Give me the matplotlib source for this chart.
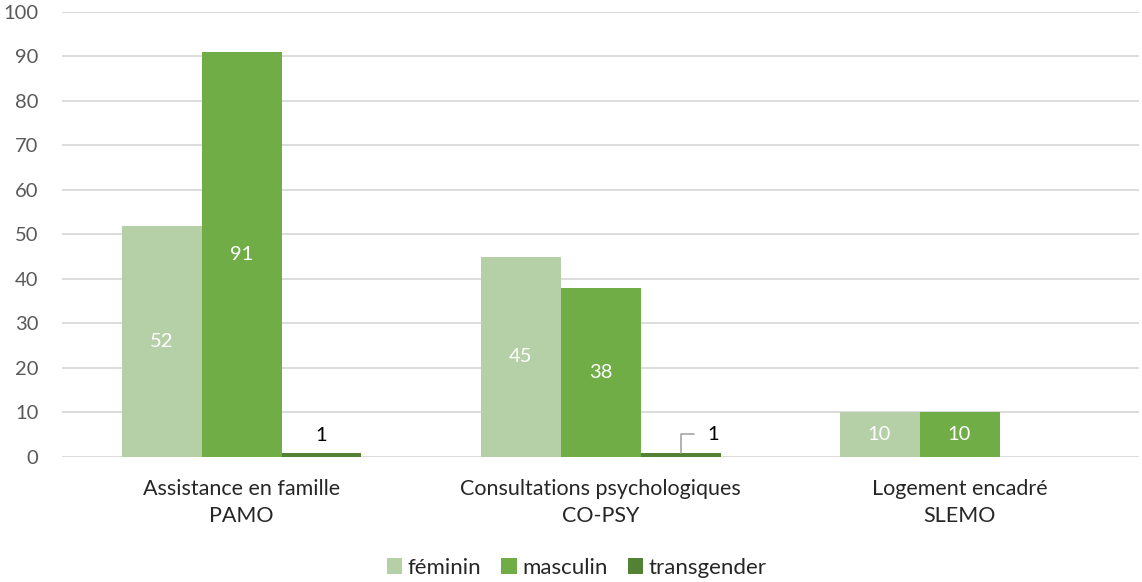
import matplotlib.pyplot as plt
import numpy as np

plt.rcParams['font.family'] = ['Lato', 'DejaVu Sans']

categories = ['Assistance en famille\nPAMO',
              'Consultations psychologiques\nCO-PSY',
              'Logement encadré\nSLEMO']
series = ['féminin', 'masculin', 'transgender']
feminin = [52, 45, 10]
masculin = [91, 38, 10]
transgender = [1, 1, 0]
colors = ['#b5cfa7', '#70ad47', '#548235']

fig = plt.figure(figsize=(11.42, 5.82), dpi=100)
ax = fig.add_axes([0.0543, 0.2148, 0.9431, 0.7646])

x = np.arange(len(categories))
w = 0.2228
valeurs = [feminin, masculin, transgender]
barres = []
for i, (nom, vals) in enumerate(zip(series, valeurs)):
    b = ax.bar(x + (i - 1) * w, vals, w, color=colors[i], label=nom, zorder=2)
    barres.append(b)

# etiquettes blanches au milieu des barres
for b in barres[:2]:
    for rect in b:
        h = rect.get_height()
        ax.text(rect.get_x() + rect.get_width() / 2, h / 2, str(h),
                ha='center', va='center', color='white', fontsize=14.5)

# etiquettes transgender
rects = barres[2]
r0 = rects[0]
ax.annotate(str(transgender[0]), (r0.get_x() + r0.get_width() / 2, transgender[0]),
            xytext=(0, 6), textcoords='offset points', ha='center', va='bottom',
            fontsize=14.5, color='black')
r1 = rects[1]
ax.annotate(str(transgender[1]), (r1.get_x() + r1.get_width() / 2, transgender[1]),
            xytext=(19, 7), textcoords='offset points', ha='left', va='bottom',
            fontsize=14.5, color='black',
            arrowprops=dict(arrowstyle='-', color='#a6a6a6', lw=1.2,
                            relpos=(0, 0.5), shrinkA=7, shrinkB=0,
                            connectionstyle='angle,angleA=0,angleB=90,rad=0'))

ax.set_xlim(-0.5, 2.5)
ax.set_ylim(0, 100)
ax.set_yticks(range(0, 101, 10))
ax.set_xticks(x)
ax.set_xticklabels(categories, fontsize=15.5, color='#262626', linespacing=1.45)
ax.tick_params(axis='y', length=0, pad=17, labelsize=14.5, labelcolor='#595959')
ax.tick_params(axis='x', length=0, pad=16)
ax.grid(axis='y', color='#d9d9d9', lw=1.3, zorder=0)
for s in ax.spines.values():
    s.set_visible(False)

fig.legend(loc='center', bbox_to_anchor=(0.505, 0.024), ncol=3, frameon=False,
           fontsize=16, handlelength=0.7, handleheight=0.7, handletextpad=0.25,
           columnspacing=0.9, labelcolor='#262626')

plt.savefig('out.png')
